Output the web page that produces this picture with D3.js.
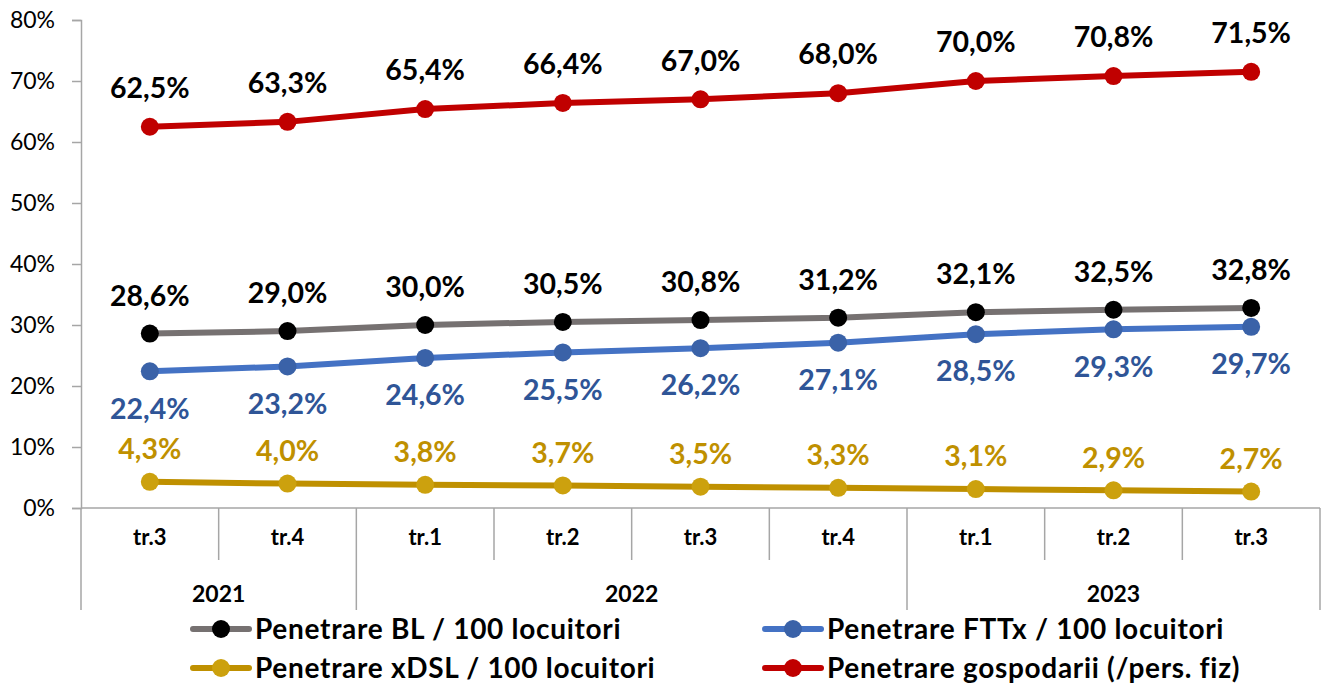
<!DOCTYPE html>
<html>
<head>
<meta charset="utf-8">
<script src="https://cdn.jsdelivr.net/npm/d3@7"></script>
<style>
  body { margin: 0; background: #fff; }
  text { font-family: Lato, "Open Sans", sans-serif; }
</style>
</head>
<body>
<svg class="chart" width="1327" height="684"></svg>
<script>
// categories
const quarters = ['tr.3', 'tr.4', 'tr.1', 'tr.2', 'tr.3', 'tr.4', 'tr.1', 'tr.2', 'tr.3'];
const years = ['2021', '2022', '2023'];
const yearQuarterCount = [2, 4, 3];

// series values (%)
const penetrareBL = [28.6, 29.0, 30.0, 30.5, 30.8, 31.2, 32.1, 32.5, 32.8];
const penetrareFTTx = [22.4, 23.2, 24.6, 25.5, 26.2, 27.1, 28.5, 29.3, 29.7];
const penetrareXDSL = [4.3, 4.0, 3.8, 3.7, 3.5, 3.3, 3.1, 2.9, 2.7];
const penetrareGosp = [62.5, 63.3, 65.4, 66.4, 67.0, 68.0, 70.0, 70.8, 71.5];

const seriesNames = [
    'Penetrare BL / 100 locuitori',
    'Penetrare FTTx / 100 locuitori',
    'Penetrare xDSL / 100 locuitori',
    'Penetrare gospodarii (/pers. fiz)'
];

// y axis ticks
const yTicks = [0, 10, 20, 30, 40, 50, 60, 70, 80];

const series = [
    { name: seriesNames[0], values: penetrareBL, line: '#767171', marker: '#000000', label: '#000000', dy: -38 },
    { name: seriesNames[1], values: penetrareFTTx, line: '#4472C4', marker: '#3A62A8', label: '#2F5597', dy: 37 },
    { name: seriesNames[2], values: penetrareXDSL, line: '#BF9000', marker: '#CCA10E', label: '#BF9000', dy: -33 },
    { name: seriesNames[3], values: penetrareGosp, line: '#C00000', marker: '#C00000', label: '#000000', dy: -39 }
];

const svg = d3.select('.chart');

const margin = { top: 20, left: 81, right: 7, bottom: 176 };
const width = +svg.attr('width');
const height = +svg.attr('height');

const xScale = d3.scaleBand()
    .domain(d3.range(quarters.length))
    .range([margin.left, width - margin.right])
    .padding(0);

const yScale = d3.scaleLinear()
    .domain([0, 80])
    .range([height - margin.bottom, margin.top]);

const axisColor = '#a6a6a6';
const fmt = d3.formatLocale({ decimal: ',', thousands: '.', grouping: [3], currency: ['', ''] }).format('.1f');

// y axis
const yAxis = svg.append('g')
    .attr('transform', `translate(${margin.left},0)`)
    .call(d3.axisLeft(yScale)
        .tickValues(yTicks)
        .tickSize(9)
        .tickPadding(17)
        .tickFormat(d => d + '%'));
yAxis.select('.domain').attr('stroke', axisColor).attr('stroke-width', 1.5);
yAxis.selectAll('.tick line').attr('stroke', axisColor).attr('stroke-width', 1.5);
yAxis.selectAll('.tick text')
    .attr('fill', '#000')
    .style('font-size', '23px')
    .style('font-family', 'Lato, sans-serif');

// x axis (two level categories)
const y0 = yScale(0);
const qBottom = y0 + 52;
const yBottom = y0 + 102;
const step = xScale.step();

const xAxis = svg.append('g');
xAxis.append('line')
    .attr('x1', margin.left).attr('x2', width - margin.right)
    .attr('y1', y0).attr('y2', y0)
    .attr('stroke', axisColor).attr('stroke-width', 1.5);

// year boundaries
let yearStarts = [0];
yearQuarterCount.forEach((c, i) => yearStarts.push(yearStarts[i] + c));

const boundaries = d3.range(quarters.length + 1);
xAxis.selectAll('.qsep')
    .data(boundaries)
    .join('line')
    .attr('x1', i => margin.left + i * step)
    .attr('x2', i => margin.left + i * step)
    .attr('y1', y0)
    .attr('y2', i => yearStarts.includes(i) ? yBottom : qBottom)
    .attr('stroke', axisColor)
    .attr('stroke-width', 1.5);

xAxis.selectAll('.qlabel')
    .data(quarters)
    .join('text')
    .attr('x', (d, i) => xScale(i) + xScale.bandwidth() / 2)
    .attr('y', y0 + 37)
    .attr('text-anchor', 'middle')
    .style('font-size', '22px')
    .style('font-weight', 'bold')
    .text(d => d);

xAxis.selectAll('.ylabel')
    .data(years)
    .join('text')
    .attr('x', (d, i) => margin.left + (yearStarts[i] + yearQuarterCount[i] / 2) * step)
    .attr('y', y0 + 94)
    .attr('text-anchor', 'middle')
    .style('font-size', '23px')
    .style('font-weight', 'bold')
    .text(d => d);

// lines
const line = d3.line()
    .x((d, i) => xScale(i) + xScale.bandwidth() / 2)
    .y(d => yScale(d));

const sg = svg.append('g')
    .selectAll('g')
    .data(series)
    .join('g');

sg.append('path')
    .attr('d', d => line(d.values))
    .attr('fill', 'none')
    .attr('stroke', d => d.line)
    .attr('stroke-width', 6)
    .attr('stroke-linejoin', 'round');

sg.selectAll('circle')
    .data(d => d.values.map(v => ({ v, s: d })))
    .join('circle')
    .attr('cx', (d, i) => xScale(i) + xScale.bandwidth() / 2)
    .attr('cy', d => yScale(d.v))
    .attr('r', 9)
    .attr('fill', d => d.s.marker);

sg.selectAll('text')
    .data(d => d.values.map(v => ({ v, s: d })))
    .join('text')
    .attr('x', (d, i) => xScale(i) + xScale.bandwidth() / 2)
    .attr('y', d => yScale(d.v) + d.s.dy)
    .attr('dy', '0.36em')
    .attr('text-anchor', 'middle')
    .attr('fill', d => d.s.label)
    .style('font-size', '28.5px')
    .style('font-weight', 'bold')
    .text(d => fmt(d.v) + '%');

// legend
const legendPos = [[193, 629], [765, 629], [193, 668], [765, 668]];
const legend = svg.append('g')
    .selectAll('g')
    .data(series)
    .join('g')
    .attr('transform', (d, i) => `translate(${legendPos[i][0]},${legendPos[i][1]})`);

legend.append('line')
    .attr('x1', 0).attr('x2', 56)
    .attr('y1', 0).attr('y2', 0)
    .attr('stroke', d => d.line)
    .attr('stroke-width', 6)
    .attr('stroke-linecap', 'round');

legend.append('circle')
    .attr('cx', 28).attr('cy', 0)
    .attr('r', 9)
    .attr('fill', d => d.marker);

legend.append('text')
    .attr('x', 62)
    .attr('y', 0)
    .attr('dy', '0.36em')
    .style('font-size', '28px')
    .style('letter-spacing', '0.7px')
    .style('font-weight', 'bold')
    .text(d => d.name);
</script>
</body>
</html>
